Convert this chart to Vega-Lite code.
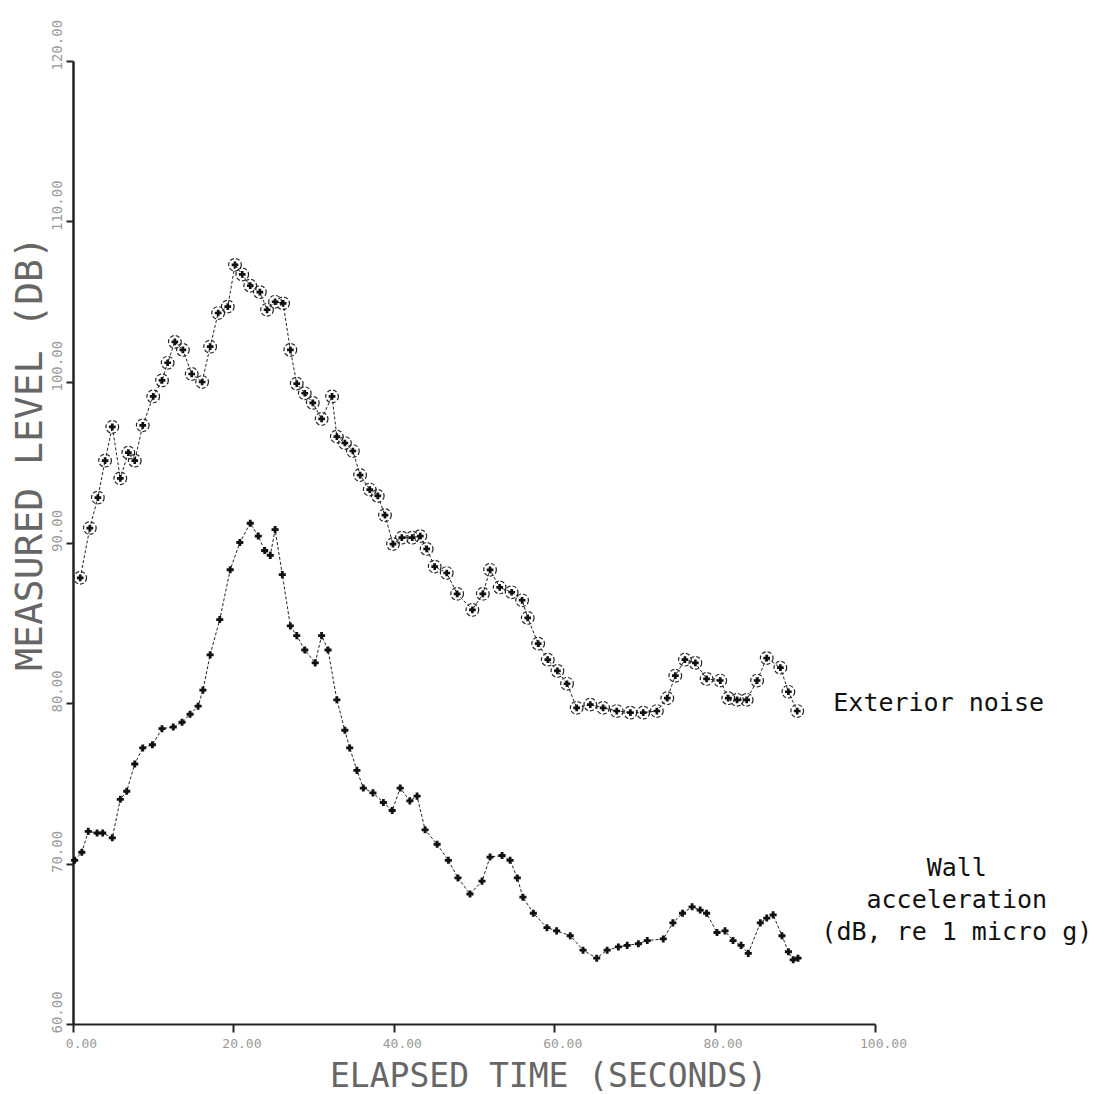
{
  "$schema": "https://vega.github.io/schema/vega-lite/v6.json",
  "width": 802,
  "height": 963,
  "autosize": {"type": "none"},
  "padding": {"left": 73, "top": 61, "right": 221, "bottom": 70},
  "background": "white",
  "config": {"view": {"stroke": null}, "font": "DejaVu Sans Mono"},
  "datasets": {
    "exterior": [
      {"time": 0.9, "level": 87.8}, {"time": 2.1, "level": 90.9}, {"time": 3.1, "level": 92.8}, {"time": 4.0, "level": 95.1},
      {"time": 4.9, "level": 97.2}, {"time": 5.9, "level": 94.0}, {"time": 6.9, "level": 95.6}, {"time": 7.7, "level": 95.1},
      {"time": 8.7, "level": 97.3}, {"time": 10.0, "level": 99.1}, {"time": 11.1, "level": 100.1}, {"time": 11.8, "level": 101.2},
      {"time": 12.7, "level": 102.5}, {"time": 13.7, "level": 102.0}, {"time": 14.8, "level": 100.5}, {"time": 16.1, "level": 100.0},
      {"time": 17.1, "level": 102.2}, {"time": 18.1, "level": 104.3}, {"time": 19.3, "level": 104.7}, {"time": 20.2, "level": 107.3},
      {"time": 21.1, "level": 106.7}, {"time": 22.1, "level": 106.0}, {"time": 23.3, "level": 105.6}, {"time": 24.2, "level": 104.5},
      {"time": 25.2, "level": 105.0}, {"time": 26.2, "level": 104.9}, {"time": 27.1, "level": 102.0}, {"time": 27.9, "level": 99.9},
      {"time": 28.9, "level": 99.3}, {"time": 29.9, "level": 98.7}, {"time": 31.0, "level": 97.7}, {"time": 32.3, "level": 99.1},
      {"time": 32.9, "level": 96.6}, {"time": 33.9, "level": 96.2}, {"time": 34.9, "level": 95.7}, {"time": 35.8, "level": 94.2},
      {"time": 37.0, "level": 93.3}, {"time": 38.0, "level": 92.9}, {"time": 38.9, "level": 91.7}, {"time": 39.9, "level": 89.9},
      {"time": 41.0, "level": 90.3}, {"time": 42.3, "level": 90.3}, {"time": 43.3, "level": 90.4}, {"time": 44.1, "level": 89.6},
      {"time": 45.1, "level": 88.5}, {"time": 46.6, "level": 88.1}, {"time": 47.9, "level": 86.8}, {"time": 49.8, "level": 85.8},
      {"time": 51.1, "level": 86.8}, {"time": 52.0, "level": 88.3}, {"time": 53.2, "level": 87.2}, {"time": 54.7, "level": 86.9},
      {"time": 56.0, "level": 86.4}, {"time": 56.7, "level": 85.3}, {"time": 58.0, "level": 83.7}, {"time": 59.2, "level": 82.7},
      {"time": 60.4, "level": 82.0}, {"time": 61.6, "level": 81.2}, {"time": 62.8, "level": 79.7}, {"time": 64.5, "level": 79.9},
      {"time": 66.1, "level": 79.7}, {"time": 67.8, "level": 79.5}, {"time": 69.5, "level": 79.4}, {"time": 71.1, "level": 79.4},
      {"time": 72.8, "level": 79.5}, {"time": 74.1, "level": 80.3}, {"time": 75.1, "level": 81.7}, {"time": 76.3, "level": 82.7},
      {"time": 77.6, "level": 82.5}, {"time": 79.0, "level": 81.5}, {"time": 80.7, "level": 81.4}, {"time": 81.7, "level": 80.3},
      {"time": 82.8, "level": 80.2}, {"time": 84.0, "level": 80.2}, {"time": 85.3, "level": 81.4}, {"time": 86.5, "level": 82.8},
      {"time": 88.2, "level": 82.2}, {"time": 89.2, "level": 80.7}, {"time": 90.3, "level": 79.5}
    ],
    "wall": [
      {"time": 0.2, "level": 70.2}, {"time": 1.1, "level": 70.7}, {"time": 1.9, "level": 72.0}, {"time": 3.0, "level": 71.9},
      {"time": 3.7, "level": 71.9}, {"time": 4.9, "level": 71.6}, {"time": 5.9, "level": 74.0}, {"time": 6.7, "level": 74.5},
      {"time": 7.7, "level": 76.2}, {"time": 8.7, "level": 77.2}, {"time": 9.9, "level": 77.4}, {"time": 11.1, "level": 78.4},
      {"time": 12.5, "level": 78.5}, {"time": 13.6, "level": 78.8}, {"time": 14.6, "level": 79.3}, {"time": 15.6, "level": 79.8},
      {"time": 16.2, "level": 80.8}, {"time": 17.1, "level": 83.0}, {"time": 18.3, "level": 85.2}, {"time": 19.6, "level": 88.3},
      {"time": 20.8, "level": 90.0}, {"time": 22.1, "level": 91.2}, {"time": 23.1, "level": 90.4}, {"time": 23.9, "level": 89.5},
      {"time": 24.6, "level": 89.2}, {"time": 25.2, "level": 90.8}, {"time": 26.1, "level": 88.0}, {"time": 27.1, "level": 84.8},
      {"time": 27.9, "level": 84.2}, {"time": 28.9, "level": 83.3}, {"time": 30.2, "level": 82.5}, {"time": 31.0, "level": 84.2},
      {"time": 31.8, "level": 83.3}, {"time": 32.9, "level": 80.2}, {"time": 33.9, "level": 78.3}, {"time": 34.5, "level": 77.2},
      {"time": 35.4, "level": 75.8}, {"time": 36.2, "level": 74.7}, {"time": 37.4, "level": 74.4}, {"time": 38.7, "level": 73.8},
      {"time": 39.8, "level": 73.3}, {"time": 40.8, "level": 74.7}, {"time": 42.0, "level": 73.9}, {"time": 42.9, "level": 74.2},
      {"time": 43.9, "level": 72.1}, {"time": 45.4, "level": 71.2}, {"time": 46.8, "level": 70.2}, {"time": 48.0, "level": 69.1},
      {"time": 49.5, "level": 68.1}, {"time": 51.0, "level": 68.9}, {"time": 52.0, "level": 70.4}, {"time": 53.5, "level": 70.5},
      {"time": 54.5, "level": 70.2}, {"time": 55.4, "level": 69.1}, {"time": 56.1, "level": 67.9}, {"time": 57.4, "level": 66.9},
      {"time": 59.1, "level": 66.0}, {"time": 60.3, "level": 65.8}, {"time": 62.0, "level": 65.5}, {"time": 63.6, "level": 64.6},
      {"time": 65.3, "level": 64.1}, {"time": 66.6, "level": 64.6}, {"time": 68.0, "level": 64.8}, {"time": 69.1, "level": 64.9},
      {"time": 70.5, "level": 65.0}, {"time": 71.6, "level": 65.2}, {"time": 73.6, "level": 65.3}, {"time": 74.8, "level": 66.3},
      {"time": 76.0, "level": 66.9}, {"time": 77.2, "level": 67.3}, {"time": 78.2, "level": 67.1}, {"time": 79.0, "level": 66.9},
      {"time": 80.3, "level": 65.7}, {"time": 81.3, "level": 65.8}, {"time": 82.3, "level": 65.2}, {"time": 83.3, "level": 64.9},
      {"time": 84.2, "level": 64.4}, {"time": 85.7, "level": 66.3}, {"time": 86.5, "level": 66.6}, {"time": 87.3, "level": 66.8},
      {"time": 88.4, "level": 65.5}, {"time": 89.2, "level": 64.5}, {"time": 89.8, "level": 64.0}, {"time": 90.4, "level": 64.1}
    ]
  },
  "layer": [
    {
      "data": {"name": "exterior"},
      "mark": {"type": "line", "stroke": "#222", "strokeWidth": 1, "strokeDash": [3, 2]},
      "encoding": {
        "x": {
          "field": "time", "type": "quantitative",
          "scale": {"domain": [0, 100], "nice": false},
          "axis": {
            "title": "ELAPSED TIME (SECONDS)", "values": [0, 20, 40, 60, 80, 100], "format": ".2f",
            "grid": false, "domainColor": "#222", "domainWidth": 2, "tickColor": "#222", "tickWidth": 2, "tickSize": 8,
            "labelFont": "DejaVu Sans Mono", "labelFontSize": 13, "labelColor": "#999", "labelPadding": 5, "labelOffset": 8,
            "labelFlush": false, "labelOverlap": false,
            "titleFont": "DejaVu Sans Mono", "titleFontSize": 33, "titleFontWeight": "normal", "titleColor": "#666",
            "titleX": 475, "titleY": 62, "titleBaseline": "alphabetic", "titleAlign": "center"
          }
        },
        "y": {
          "field": "level", "type": "quantitative",
          "scale": {"domain": [60, 120], "nice": false, "zero": false},
          "axis": {
            "title": "MEASURED LEVEL (DB)", "values": [60, 70, 80, 90, 100, 110, 120], "format": ".2f",
            "grid": false, "domainColor": "#222", "domainWidth": 2.5, "tickColor": "#222", "tickWidth": 2, "tickSize": 7,
            "labelFont": "DejaVu Sans Mono", "labelFontSize": 14, "labelColor": "#999", "labelPadding": 2,
            "labelAngle": -90, "labelAlign": "left", "labelBaseline": "bottom", "labelOffset": 9,
            "labelFlush": false, "labelOverlap": false,
            "titleFont": "DejaVu Sans Mono", "titleFontSize": 38, "titleFontWeight": "normal", "titleColor": "#666",
            "titleX": -43, "titleY": 392, "titleAngle": -90, "titleAlign": "center", "titleBaseline": "middle"
          }
        }
      }
    },
    {
      "data": {"name": "exterior"},
      "mark": {"type": "point", "shape": "circle", "filled": false, "stroke": "#222", "strokeWidth": 1.2, "strokeDash": [4, 2], "size": 160, "opacity": 1},
      "encoding": {"x": {"field": "time", "type": "quantitative"}, "y": {"field": "level", "type": "quantitative"}}
    },
    {
      "data": {"name": "exterior"},
      "mark": {"type": "point", "shape": "cross", "filled": true, "fill": "#111", "strokeWidth": 0, "size": 45, "opacity": 1},
      "encoding": {"x": {"field": "time", "type": "quantitative"}, "y": {"field": "level", "type": "quantitative"}}
    },
    {
      "data": {"name": "wall"},
      "mark": {"type": "line", "stroke": "#222", "strokeWidth": 1, "strokeDash": [3, 2]},
      "encoding": {"x": {"field": "time", "type": "quantitative"}, "y": {"field": "level", "type": "quantitative"}}
    },
    {
      "data": {"name": "wall"},
      "mark": {"type": "point", "shape": "cross", "filled": true, "fill": "#111", "strokeWidth": 0, "size": 50, "opacity": 1},
      "encoding": {"x": {"field": "time", "type": "quantitative"}, "y": {"field": "level", "type": "quantitative"}}
    },
    {
      "data": {"values": [{"label": "Exterior noise"}]},
      "mark": {"type": "text", "font": "DejaVu Sans Mono", "fontSize": 25, "align": "left", "baseline": "middle", "fill": "#111"},
      "encoding": {
        "x": {"datum": 94.8, "type": "quantitative"},
        "y": {"datum": 80.0, "type": "quantitative"},
        "text": {"field": "label"}
      }
    },
    {
      "data": {"values": [{"label": "Wall acceleration"}]},
      "mark": {"type": "text", "text": ["Wall", "acceleration", "(dB, re 1 micro g)"], "font": "DejaVu Sans Mono", "fontSize": 25, "lineHeight": 32, "align": "center", "baseline": "middle", "fill": "#111"},
      "encoding": {
        "x": {"datum": 110.2, "type": "quantitative"},
        "y": {"datum": 69.7, "type": "quantitative"}
      }
    }
  ]
}
